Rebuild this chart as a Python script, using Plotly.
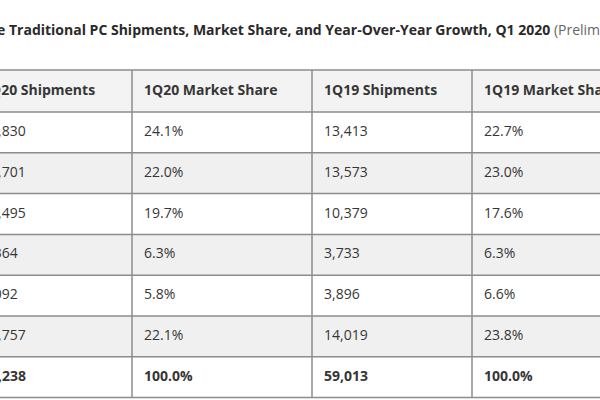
import plotly.graph_objects as go

# Dados da tabela (milhares de unidades)
colunas = ['1Q20 Shipments', '1Q20 Market Share', '1Q19 Shipments', '1Q19 Market Share']
remessas_1q20 = [12830, 11701, 10495, 3364, 3092, 11757, 53238]
share_1q20 = [24.1, 22.0, 19.7, 6.3, 5.8, 22.1, 100.0]
remessas_1q19 = [13413, 13573, 10379, 3733, 3896, 14019, 59013]
share_1q19 = [22.7, 23.0, 17.6, 6.3, 6.6, 23.8, 100.0]

titulo = ('Top Companies, Worldwide Traditional PC Shipments, Market Share, and '
          'Year-Over-Year Growth, Q1 2020')
subtitulo = '(Preliminary results, shipments are in thousands of units)'

# Layout em pixels
bordas_x = [-30, 132, 312, 472, 640]
topo = 70
alt_cab = 42
alt_linha = 40.8
pad = 12
fonte = 'Open Sans'

linhas = [[f'{a:,}', f'{b:.1f}%', f'{c:,}', f'{d:.1f}%']
          for a, b, c, d in zip(remessas_1q20, share_1q20, remessas_1q19, share_1q19)]
n = len(linhas)
bordas_y = [topo, topo + alt_cab] + [topo + alt_cab + alt_linha * (i + 1) for i in range(n)]

fig = go.Figure()

# Fundos das linhas (cabeçalho cinza, depois alternado)
cores = ['#f3f3f3'] + ['#ffffff' if i % 2 == 0 else '#f0f0f0' for i in range(n)]
for i in range(len(bordas_y) - 1):
    fig.add_trace(go.Bar(
        y=[(bordas_y[i] + bordas_y[i + 1]) / 2], x=[bordas_x[-1] - bordas_x[0]],
        base=[bordas_x[0]], width=[bordas_y[i + 1] - bordas_y[i]], orientation='h',
        marker=dict(color=cores[i], line=dict(width=0)), hoverinfo='skip', showlegend=False))

# Grade
gx, gy = [], []
for yb in bordas_y:
    gx += [bordas_x[0], bordas_x[-1], None]
    gy += [yb, yb, None]
for xb in bordas_x:
    gx += [xb, xb, None]
    gy += [bordas_y[0], bordas_y[-1], None]
fig.add_trace(go.Scatter(x=gx, y=gy, mode='lines', line=dict(color='#8c8c8c', width=1.5),
                         hoverinfo='skip', showlegend=False))

# Textos das células
tx, ty, tt = [], [], []
for j, nome in enumerate(colunas):
    tx.append(bordas_x[j] + pad)
    ty.append((bordas_y[0] + bordas_y[1]) / 2)
    tt.append(f'<b>{nome}</b>')
    for i, linha in enumerate(linhas):
        tx.append(bordas_x[j] + pad)
        ty.append((bordas_y[i + 1] + bordas_y[i + 2]) / 2)
        tt.append(f'<b>{linha[j]}</b>' if i == n - 1 else linha[j])
fig.add_trace(go.Scatter(x=tx, y=ty, text=tt, mode='text', textposition='middle right',
                         textfont=dict(family=fonte, size=14, color='#363636'),
                         cliponaxis=True, hoverinfo='skip', showlegend=False))

# Título (cortado à esquerda como no recorte original)
fig.add_trace(go.Scatter(
    x=[-184], y=[31], mode='text', textposition='middle right',
    text=[f'<b>{titulo}</b> <span style="color:#666">{subtitulo}</span>'],
    textfont=dict(family=fonte, size=14, color='#2a2a2a'),
    cliponaxis=True, hoverinfo='skip', showlegend=False))

fig.update_layout(
    width=600, height=400, margin=dict(l=0, r=0, t=0, b=0),
    paper_bgcolor='white', plot_bgcolor='white', barmode='overlay', bargap=0,
    xaxis=dict(range=[0, 600], visible=False, fixedrange=True),
    yaxis=dict(range=[400, 0], visible=False, fixedrange=True),
)

fig.write_html('out.html', config={'displayModeBar': False},
               post_script="document.body.style.margin='0';")
